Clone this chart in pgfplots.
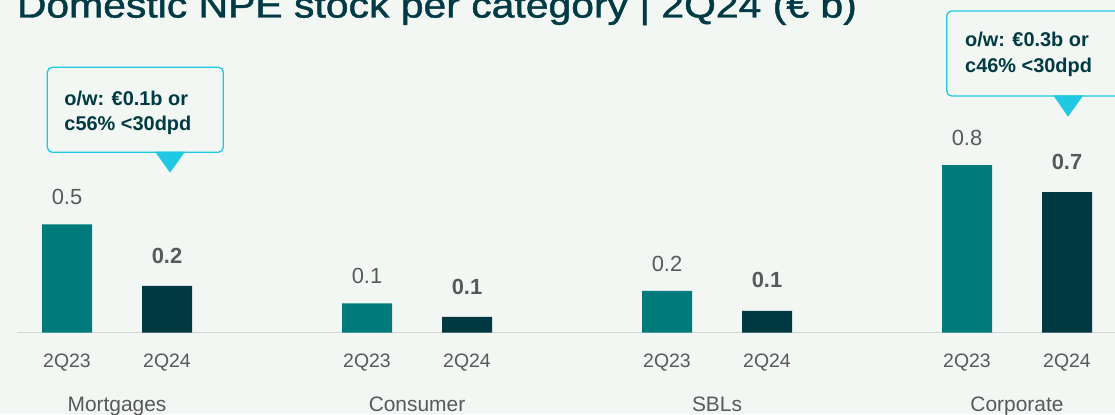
\documentclass[border=0pt]{standalone}
\usepackage{graphicx}
\usepackage{pgfplots}
\pgfplotsset{compat=1.18}
\usepackage{fontspec}
\setmainfont{Liberation Sans}
\newfontfamily\titlefont[FakeBold=1.2]{Liberation Sans}
\definecolor{bgc}{HTML}{F3F7F4}
\definecolor{titlec}{HTML}{003A45}
\definecolor{cA}{HTML}{007B7B}
\definecolor{cB}{HTML}{003942}
\definecolor{labc}{HTML}{595959}
\definecolor{axisc}{HTML}{D4D6D5}
\definecolor{callc}{HTML}{1FC9E3}
\definecolor{darkc}{HTML}{003A42}
\begin{document}
\begin{tikzpicture}[x=1bp,y=1bp]
\path[use as bounding box, fill=bgc] (0,0) rectangle (1115,414);
\node[anchor=base west, inner sep=0pt, text=titlec, font=\titlefont\fontsize{36}{40}\selectfont] at (16.7,396.5) {\resizebox{840bp}{\height}{Domestic NPE stock per category | 2Q24 (€ b)}};
\begin{axis}[
  at={(17bp,81.3bp)}, anchor=south west,
  scale only axis, width=1100bp, height=209.6bp,
  xmin=-0.5, xmax=10.5, ymin=0, ymax=1,
  ybar, bar width=50bp,
  axis y line=none, axis x line*=bottom,
  x axis line style={draw=axisc, line width=1.3bp, -},
  xtick={0,1,3,4,6,7,9,10},
  xticklabels={2Q23,2Q24,2Q23,2Q24,2Q23,2Q24,2Q23,2Q24},
  major tick length=0pt,
  xticklabel style={anchor=base, yshift=-34.6bp, font=\fontsize{19.5}{20}\selectfont, text=labc, inner sep=0pt},
  /pgf/number format/assume math mode=true,
  nodes near coords={\pgfmathprintnumber[fixed,precision=1,fixed zerofill]{\pgfplotspointmeta}},
  point meta=y,
  clip=false,
]
\addplot[fill=cA, draw=none, bar shift=0pt,
  every node near coord/.append style={inner sep=0pt, yshift=19.5bp, text=labc, font=\fontsize{22}{24}\selectfont}]
  coordinates {(0,0.517) (3,0.140) (6,0.199) (9,0.800)};
\addplot[fill=cB, draw=none, bar shift=0pt,
  every node near coord/.append style={inner sep=0pt, yshift=22.5bp, text=labc, font=\bfseries\fontsize{22}{24}\selectfont}]
  coordinates {(1,0.223) (4,0.075) (7,0.104) (10,0.671)};
\end{axis}
\foreach \xx/\tt in {117/Mortgages, 417/Consumer, 717/SBLs, 1017/Corporate}
  \node[anchor=base, inner sep=0pt, text=labc, font=\fontsize{21}{24}\selectfont] at (\xx,2.3) {\tt};
% callout 1
\draw[callc, line width=1.3bp, rounded corners=5bp, fill=bgc] (47.3,261.7) rectangle (223.3,346.7);
\fill[callc] (155,262.3) -- (185,262.3) -- (170,241.3) -- cycle;
\node[anchor=base west, inner sep=0pt, text=darkc, font=\bfseries\fontsize{20}{24}\selectfont] at (64.3,308.3) {o/w: €0.1b or};
\node[anchor=base west, inner sep=0pt, text=darkc, font=\bfseries\fontsize{20}{24}\selectfont] at (64.3,284) {c56\% <30dpd};
% callout 2
\draw[callc, line width=1.3bp, rounded corners=5bp, fill=bgc] (946.7,318) rectangle (1125,403);
\fill[callc] (1053.3,318.6) -- (1083.3,318.6) -- (1068,297.3) -- cycle;
\node[anchor=base west, inner sep=0pt, text=darkc, font=\bfseries\fontsize{20}{24}\selectfont] at (965,367.3) {o/w: €0.3b or};
\node[anchor=base west, inner sep=0pt, text=darkc, font=\bfseries\fontsize{20}{24}\selectfont] at (965,341.3) {c46\% <30dpd};
\end{tikzpicture}
\end{document}
